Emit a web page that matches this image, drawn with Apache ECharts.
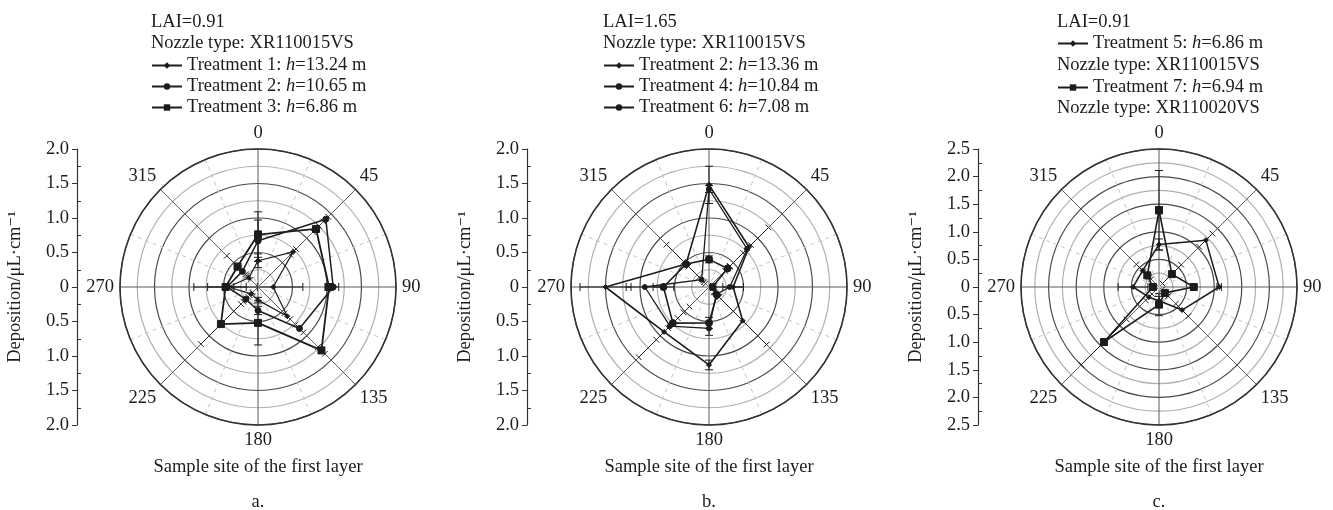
<!DOCTYPE html>
<html>
<head>
<meta charset="utf-8">
<script src="https://cdn.jsdelivr.net/npm/echarts@6/dist/echarts.min.js"></script>
<style>
  html, body { margin: 0; padding: 0; background: #fff; }
  #chart { width: 1333px; height: 510px; }
</style>
</head>
<body>
<div id="chart"></div>
<script>
// Sampling directions (degrees, clockwise from north)
const angles = [0, 45, 90, 135, 180, 225, 270, 315];

// Panel a: LAI = 0.91, nozzle XR110015VS
const aT1 = [0.38, 0.72, 0.22, 0.60, 0.19, 0.14, 0.43, 0.19];
const aT1Err = [0.10, 0.06, 0.43, 0.06, 0.04, 0.03, 0.08, 0.04];
const aT2 = [0.67, 1.39, 1.09, 0.85, 0.34, 0.25, 0.45, 0.32];
const aT2Err = [0.30, 0.05, 0.08, 0.08, 0.06, 0.05, 0.28, 0.06];
const aT3 = [0.76, 1.19, 1.03, 1.30, 0.52, 0.76, 0.47, 0.42];
const aT3Err = [0.33, 0.06, 0.06, 0.07, 0.32, 0.41, 0.46, 0.22];

// Panel b: LAI = 1.65, nozzle XR110015VS
const bT2 = [1.48, 0.82, 0.35, 0.69, 1.13, 0.92, 1.50, 0.47];
const bT2Err = [0.27, 0.40, 0.15, 0.49, 0.07, 0.52, 0.37, 0.40];
const bT4 = [1.42, 0.78, 0.30, 0.15, 0.60, 0.80, 0.93, 0.15];
const bT4Err = [0.05, 0.08, 0.20, 0.05, 0.10, 0.28, 0.27, 0.05];
const bT6 = [0.40, 0.38, 0.05, 0.16, 0.52, 0.74, 0.66, 0.47];
const bT6Err = [0.05, 0.05, 0.03, 0.05, 0.08, 0.10, 0.15, 0.05];

// Panel c: LAI = 0.91, two nozzle types
const cT5 = [0.77, 1.20, 1.09, 0.59, 0.25, 0.26, 0.47, 0.42];
const cT5Err = [0.10, 0.17, 0.04, 0.16, 0.08, 0.08, 0.27, 0.16];
const cT7 = [1.39, 0.33, 0.63, 0.15, 0.32, 1.41, 0.11, 0.30];
const cT7Err = [0.72, 0.24, 0.05, 0.08, 0.20, 0.58, 0.05, 0.10];

// Axis extents of the deposition scale
const radiusMax = [2.0, 2.0, 2.5];

const FONT = '"Liberation Serif", "DejaVu Serif", serif';
const FS = 18.5;
const INK = '#1c1c1c';

// Layout of the three panels
const panels = [
  { cx: 258, axisX: 77, legendX: 151, tag: 'a.' },
  { cx: 709, axisX: 527, legendX: 603, tag: 'b.' },
  { cx: 1159, axisX: 978, legendX: 1057, tag: 'c.' }
];
const CY = 287, R = 138;

function polygonSeries(name, polarIndex, values, symbol, size, width) {
  const data = angles.map((a, i) => [values[i], a]);
  data.push([values[0], 360]);
  return {
    name, type: 'line', coordinateSystem: 'polar', polarIndex,
    data, symbol, symbolSize: size, showSymbol: true,
    lineStyle: { color: INK, width },
    itemStyle: { color: INK, borderColor: INK },
    z: 5, silent: true, animation: false
  };
}

function errorSeries(polarIndex, values, errs) {
  return {
    type: 'custom', coordinateSystem: 'polar', polarIndex,
    data: angles.map((a, i) => [values[i], a, errs[i]]),
    encode: { radius: 0, angle: 1 },
    z: 4, silent: true, animation: false,
    renderItem: function (params, api) {
      const r = api.value(0), ang = api.value(1), e = api.value(2);
      const lo = Math.max(r - e, 0), hi = r + e;
      const p0 = api.coord([0, ang]);
      const p1 = api.coord([lo, ang]);
      const p2 = api.coord([hi, ang]);
      const ref = api.coord([1, ang]);
      let ux = ref[0] - p0[0], uy = ref[1] - p0[1];
      const len = Math.hypot(ux, uy) || 1;
      ux /= len; uy /= len;
      const nx = -uy * 4, ny = ux * 4;
      const style = { stroke: INK, lineWidth: 1 };
      const children = [
        { type: 'line', shape: { x1: p1[0], y1: p1[1], x2: p2[0], y2: p2[1] }, style },
        { type: 'line', shape: { x1: p2[0] - nx, y1: p2[1] - ny, x2: p2[0] + nx, y2: p2[1] + ny }, style }
      ];
      if (lo > 0) {
        children.push({ type: 'line', shape: { x1: p1[0] - nx, y1: p1[1] - ny, x2: p1[0] + nx, y2: p1[1] + ny }, style });
      }
      return { type: 'group', children };
    }
  };
}

const polar = panels.map(p => ({ center: [p.cx, CY], radius: R }));

const angleAxis = panels.map((p, i) => ({
  polarIndex: i, type: 'value', min: 0, max: 360, interval: 45,
  startAngle: 90, clockwise: true,
  axisLine: { show: true, lineStyle: { color: '#333', width: 1.5 } },
  axisTick: { show: false },
  axisLabel: {
    margin: 6, fontFamily: FONT, fontSize: FS, color: INK,
    formatter: v => (v === 360 ? '' : String(v))
  },
  splitLine: { show: true, lineStyle: { color: '#5a5a5a', width: 1 } },
  minorTick: { show: false, splitNumber: 2 },
  minorSplitLine: { show: true, lineStyle: { color: '#c4c4c4', width: 1, type: [4, 4] } }
}));

const radiusAxis = panels.map((p, i) => ({
  polarIndex: i, type: 'value', min: 0, max: radiusMax[i], interval: 0.25,
  axisLine: { show: false }, axisTick: { show: false }, axisLabel: { show: false },
  splitLine: { show: true, lineStyle: { color: ['#4a4a4a', '#b0b0b0'], width: 1.2 } }
}));

const grid = panels.map(p => ({ left: p.axisX, width: 1, top: CY - R, height: 2 * R }));
const xAxis = panels.map((p, i) => ({ gridIndex: i, type: 'value', show: false }));
const yAxis = panels.map((p, i) => ({
  gridIndex: i, type: 'value', min: -radiusMax[i], max: radiusMax[i], interval: 0.5,
  axisLine: { show: true, lineStyle: { color: '#333', width: 1.2 } },
  axisTick: { show: true, length: 5, lineStyle: { color: '#333' } },
  minorTick: { show: true, splitNumber: 2, length: -4, lineStyle: { color: '#333' } },
  splitLine: { show: false },
  axisLabel: {
    margin: 8, fontFamily: FONT, fontSize: FS, color: INK,
    formatter: v => (v === 0 ? '0' : Math.abs(v).toFixed(1))
  },
  name: 'Deposition/μL·cm⁻¹', nameLocation: 'middle', nameGap: 52,
  nameTextStyle: { fontFamily: FONT, fontSize: FS, color: INK }
}));

const series = [
  errorSeries(0, aT1, aT1Err), errorSeries(0, aT2, aT2Err), errorSeries(0, aT3, aT3Err),
  polygonSeries('Treatment 1: h=13.24 m', 0, aT1, 'diamond', 5, 1.2),
  polygonSeries('Treatment 2: h=10.65 m', 0, aT2, 'circle', 6, 1.5),
  polygonSeries('Treatment 3: h=6.86 m', 0, aT3, 'rect', 7, 1.8),

  errorSeries(1, bT2, bT2Err), errorSeries(1, bT4, bT4Err), errorSeries(1, bT6, bT6Err),
  polygonSeries('Treatment 2: h=13.36 m', 1, bT2, 'diamond', 5, 1.6),
  polygonSeries('Treatment 4: h=10.84 m', 1, bT4, 'circle', 5, 1.3),
  polygonSeries('Treatment 6: h=7.08 m', 1, bT6, 'circle', 7, 1.6),

  errorSeries(2, cT5, cT5Err), errorSeries(2, cT7, cT7Err),
  polygonSeries('Treatment 5: h=6.86 m', 2, cT5, 'diamond', 5, 1.5),
  polygonSeries('Treatment 7: h=6.94 m', 2, cT7, 'rect', 7, 1.6)
];

const richText = {
  t: { fontFamily: FONT, fontSize: FS, color: INK },
  i: { fontFamily: FONT, fontSize: FS, color: INK, fontStyle: 'italic' }
};
function legendLabel(name) {
  const k = name.indexOf('h=');
  return '{t|' + name.slice(0, k) + '}{i|h}{t|' + name.slice(k + 1) + '}';
}
function legendBlock(x, y, names) {
  return {
    orient: 'vertical', left: x, top: y, itemWidth: 30, itemHeight: 8, itemGap: 2,
    padding: 0, selectedMode: false, data: names,
    formatter: legendLabel, textStyle: { rich: richText, padding: [0, 0, 0, 0] }
  };
}
const legend = [
  legendBlock(panels[0].legendX, 56, ['Treatment 1: h=13.24 m', 'Treatment 2: h=10.65 m', 'Treatment 3: h=6.86 m']),
  legendBlock(panels[1].legendX, 56, ['Treatment 2: h=13.36 m', 'Treatment 4: h=10.84 m', 'Treatment 6: h=7.08 m']),
  legendBlock(panels[2].legendX, 34, ['Treatment 5: h=6.86 m']),
  legendBlock(panels[2].legendX, 78, ['Treatment 7: h=6.94 m'])
];

function label(x, y, text, align) {
  return {
    type: 'text', x, y, silent: true,
    style: { text, font: FS + 'px ' + FONT, fill: INK, align: align || 'left', verticalAlign: 'middle' }
  };
}
const graphic = [
  label(151, 22, 'LAI=0.91'), label(151, 43, 'Nozzle type: XR110015VS'),
  label(603, 22, 'LAI=1.65'), label(603, 43, 'Nozzle type: XR110015VS'),
  label(1057, 22, 'LAI=0.91'), label(1057, 65, 'Nozzle type: XR110015VS'),
  label(1057, 108, 'Nozzle type: XR110020VS')
];
panels.forEach(p => {
  graphic.push(label(p.cx, 467, 'Sample site of the first layer', 'center'));
  graphic.push(label(p.cx, 502, p.tag, 'center'));
});

const chart = echarts.init(document.getElementById('chart'), null, { renderer: 'canvas' });
chart.setOption({
  animation: false,
  backgroundColor: '#fff',
  polar, angleAxis, radiusAxis, grid, xAxis, yAxis, legend, graphic, series
});
</script>
</body>
</html>
